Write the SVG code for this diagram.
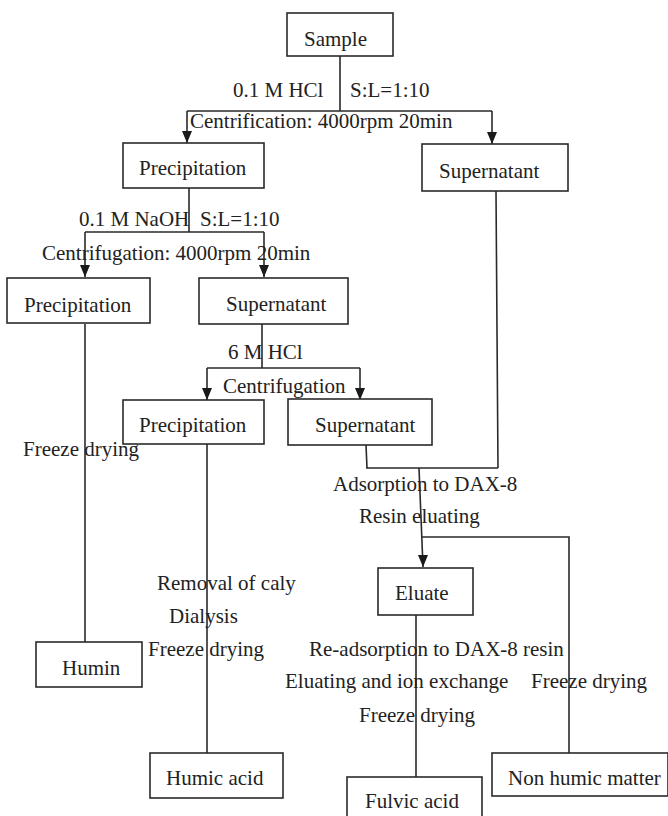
<svg xmlns="http://www.w3.org/2000/svg" width="668" height="816" viewBox="0 0 668 816">
<style>
.box{fill:#fff;stroke:#2a2a2a;stroke-width:1.6}
.ln{fill:none;stroke:#2a2a2a;stroke-width:1.6}
.ar{marker-end:url(#ah)}
text{font-family:"Liberation Serif","Times New Roman",serif;font-size:21px;fill:#222}
</style>
<defs>
<marker id="ah" viewBox="0 0 10 12" refX="5" refY="12" markerWidth="10" markerHeight="12" markerUnits="userSpaceOnUse" orient="auto-start-reverse">
<path d="M0,0 L10,0 L5,12 Z" fill="#1a1a1a" transform="rotate(-90 5 6) translate(-1 1)"/>
</marker>
<marker id="ad" viewBox="0 0 10 12" refX="5" refY="12" markerWidth="10" markerHeight="12" markerUnits="userSpaceOnUse" orient="0">
<path d="M0,0 L10,0 L5,12 Z" fill="#1a1a1a"/>
</marker>
</defs>
<rect width="668" height="816" fill="#fff"/>
<g id="connectors">
<path class="ln" d="M340,56 V111 M187,111 H492"/>
<path class="ln" d="M187,111 V143" marker-end="url(#ad)"/>
<path class="ln" d="M492,111 V144" marker-end="url(#ad)"/>
<path class="ln" d="M189,188 V232 M85,232 H264"/>
<path class="ln" d="M85,232 V277" marker-end="url(#ad)"/>
<path class="ln" d="M264,232 V277" marker-end="url(#ad)"/>
<path class="ln" d="M85,324 V642"/>
<path class="ln" d="M262,324 V368 M207,368 H360"/>
<path class="ln" d="M207,368 V400" marker-end="url(#ad)"/>
<path class="ln" d="M360,368 V400" marker-end="url(#ad)"/>
<path class="ln" d="M207,444 V753"/>
<path class="ln" d="M366,445 L367,468 M366,468 H498 M496,191 L498,468"/>
<path class="ln" d="M419,468 L423,567" marker-end="url(#ad)"/>
<path class="ln" d="M422,537 H569 V753"/>
<path class="ln" d="M416,615 V777"/>
</g>
<g id="labels">
<text x="233" y="97">0.1 M HCl</text>
<text x="350" y="97">S:L=1:10</text>
<text x="190" y="128">Centrification: 4000rpm 20min</text>
<text x="79" y="226">0.1 M NaOH</text>
<text x="200" y="226">S:L=1:10</text>
<text x="42" y="260">Centrifugation: 4000rpm 20min</text>
<text x="228" y="359">6 M HCl</text>
<text x="223" y="393">Centrifugation</text>
<text x="23" y="456">Freeze drying</text>
<text x="333" y="491">Adsorption to DAX-8</text>
<text x="359" y="523">Resin eluating</text>
<text x="157" y="590">Removal of caly</text>
<text x="169" y="623">Dialysis</text>
<text x="148" y="656">Freeze drying</text>
<text x="309" y="656">Re-adsorption to DAX-8 resin</text>
<text x="285" y="688">Eluating and ion exchange</text>
<text x="531" y="688">Freeze drying</text>
<text x="359" y="722">Freeze drying</text>
</g>
<g id="sample"><rect class="box" x="287" y="13" width="106" height="43"/><text x="304" y="46">Sample</text></g>
<g id="precipitation1"><rect class="box" x="123" y="143" width="141" height="45"/><text x="139" y="175">Precipitation</text></g>
<g id="supernatant1"><rect class="box" x="422" y="144" width="146" height="47"/><text x="439" y="178">Supernatant</text></g>
<g id="precipitation2"><rect class="box" x="7" y="278" width="143" height="45"/><text x="24" y="312">Precipitation</text></g>
<g id="supernatant2"><rect class="box" x="199" y="278" width="149" height="46"/><text x="226" y="311">Supernatant</text></g>
<g id="precipitation3"><rect class="box" x="123" y="400" width="141" height="44"/><text x="139" y="432">Precipitation</text></g>
<g id="supernatant3"><rect class="box" x="288" y="399" width="144" height="46"/><text x="315" y="432">Supernatant</text></g>
<g id="humin"><rect class="box" x="36" y="642" width="106" height="45"/><text x="62" y="675">Humin</text></g>
<g id="eluate"><rect class="box" x="378" y="568" width="95" height="47"/><text x="395" y="600">Eluate</text></g>
<g id="humic-acid"><rect class="box" x="150" y="753" width="133" height="45"/><text x="166" y="785">Humic acid</text></g>
<g id="non-humic-matter"><rect class="box" x="492" y="753" width="176" height="43"/><text x="508" y="785">Non humic matter</text></g>
<g id="fulvic-acid"><rect class="box" x="347" y="777" width="135" height="45"/><text x="365" y="808">Fulvic acid</text></g>
</svg>
